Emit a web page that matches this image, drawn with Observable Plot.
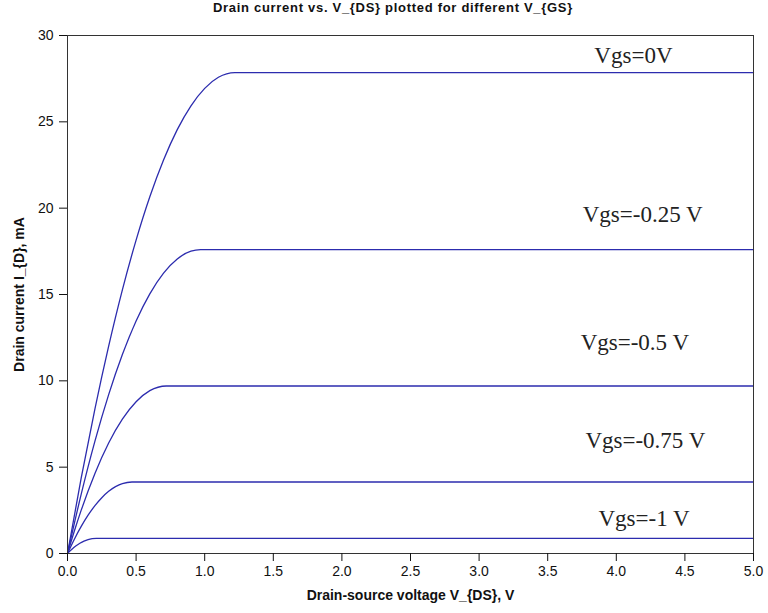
<!DOCTYPE html>
<html><head><meta charset="utf-8">
<script src="https://cdn.jsdelivr.net/npm/d3@7"></script>
<script src="https://cdn.jsdelivr.net/npm/@observablehq/plot@0.6"></script>
<style>
body{margin:0;background:#fff;}
#title{box-sizing:border-box;width:768px;height:20px;line-height:30px;padding-left:18px;text-align:center;font:bold 13px "Liberation Sans",Arial,sans-serif;letter-spacing:0.7px;color:#111;overflow:visible;white-space:nowrap;}
</style></head><body>
<div id="title">Drain current vs. V_{DS} plotted for different V_{GS}</div>
<div id="chart"></div>
<script>
// Gate-source voltages (curve labels)
const seriesNames = ["Vgs=0V", "Vgs=-0.25 V", "Vgs=-0.5 V", "Vgs=-0.75 V", "Vgs=-1 V"];

// Curve Vgs = 0 V
const vds0 = [0, 0.1, 0.2, 0.3, 0.4, 0.5, 0.6, 0.7, 0.8, 0.9, 1.0, 1.1, 1.22, 5.0];
const id0  = [0, 4.38, 8.38, 12.01, 15.27, 18.15, 20.66, 22.79, 24.55, 25.93, 26.94, 27.58, 27.85, 27.85];
// Curve Vgs = -0.25 V
const vds1 = [0, 0.1, 0.2, 0.3, 0.4, 0.5, 0.6, 0.7, 0.8, 0.9, 0.97, 5.0];
const id1  = [0, 3.44, 6.51, 9.20, 11.52, 13.47, 15.04, 16.24, 17.06, 17.51, 17.6, 17.6];
// Curve Vgs = -0.5 V
const vds2 = [0, 0.05, 0.1, 0.2, 0.3, 0.4, 0.5, 0.6, 0.72, 5.0];
const id2  = [0, 1.30, 2.51, 4.64, 6.40, 7.78, 8.79, 9.43, 9.7, 9.7];
// Curve Vgs = -0.75 V
const vds3 = [0, 0.05, 0.1, 0.15, 0.2, 0.25, 0.3, 0.35, 0.4, 0.47, 5.0];
const id3  = [0, 0.83, 1.57, 2.22, 2.77, 3.23, 3.60, 3.87, 4.05, 4.14, 4.14];
// Curve Vgs = -1 V
const vds4 = [0, 0.03, 0.06, 0.09, 0.12, 0.15, 0.18, 0.21, 5.0];
const id4  = [0, 0.23, 0.43, 0.59, 0.72, 0.81, 0.86, 0.88, 0.88];

// Label anchor points (data coordinates)
const labelVds = [3.84, 3.755, 3.74, 3.775, 3.87];
const labelId  = [28.83, 19.62, 12.23, 6.54, 2.04];

// Axis ticks
const xTicks = [0, 0.5, 1.0, 1.5, 2.0, 2.5, 3.0, 3.5, 4.0, 4.5, 5.0];
const yTicks = [0, 5, 10, 15, 20, 25, 30];

const curves = [[vds0, id0], [vds1, id1], [vds2, id2], [vds3, id3], [vds4, id4]];
const rows = curves.flatMap(([xs, ys], k) => xs.map((v, i) => ({vds: v, id: ys[i], series: seriesNames[k]})));
const labels = seriesNames.map((s, k) => ({text: s, vds: labelVds[k], id: labelId[k]}));

const chart = Plot.plot({
  width: 768,
  height: 593,
  marginTop: 15,
  marginBottom: 60,
  marginLeft: 67,
  marginRight: 15,
  style: {fontFamily: "'Liberation Sans', Arial, sans-serif", fontSize: "14px", color: "#111", background: "#fff", overflow: "visible"},
  x: {domain: [0, 5], label: null},
  y: {domain: [0, 30], label: null},
  marks: [
    Plot.line(rows, {x: "vds", y: "id", z: "series", stroke: "#2c2cae", strokeWidth: 1.3, curve: "monotone-x"}),
    Plot.text(labels, {x: "vds", y: "id", text: "text", textAnchor: "start", lineAnchor: "middle",
      fontFamily: "'Liberation Serif', 'Times New Roman', serif", fontSize: 23, fill: "#222"}),
    Plot.frame({stroke: "#333"}),
    Plot.axisX({ticks: xTicks, tickFormat: d3.format(".1f"), tickSize: 8, tickPadding: 5, label: null,
      fontSize: 14, style: {letterSpacing: "1px"}}),
    Plot.axisX({ticks: [], tickSize: 0,
      label: "Drain-source voltage V_{DS}, V", labelAnchor: "center", labelArrow: "none", labelOffset: 46,
      fontWeight: "bold", style: {letterSpacing: "0.8px", fontSize: "13px"}}),
    Plot.axisY({ticks: yTicks, tickSize: 8, tickPadding: 6, label: null, fontSize: 14, style: {letterSpacing: "1px"}}),
    Plot.axisY({ticks: [], tickSize: 0,
      label: "Drain current I_{D}, mA", labelAnchor: "center", labelArrow: "none", labelOffset: 53,
      fontWeight: "bold", style: {letterSpacing: "0.8px", fontSize: "13px"}})
  ]
});
document.getElementById("chart").appendChild(chart);
</script>
</body></html>
